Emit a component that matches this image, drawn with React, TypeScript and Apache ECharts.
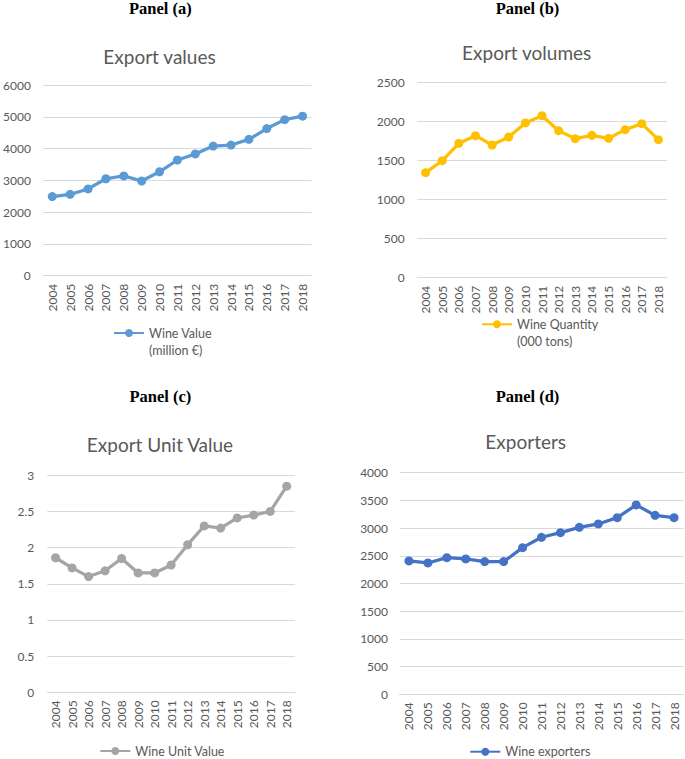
import React, { useEffect, useRef } from "react";
import * as echarts from "echarts";

const years = ["2004", "2005", "2006", "2007", "2008", "2009", "2010", "2011", "2012", "2013", "2014", "2015", "2016", "2017", "2018"];
const wineValue = [2490, 2560, 2730, 3050, 3140, 2980, 3270, 3640, 3830, 4080, 4110, 4290, 4630, 4910, 5020];
const wineQuantity = [1344, 1497, 1719, 1817, 1698, 1800, 1980, 2073, 1881, 1779, 1822, 1783, 1894, 1971, 1766];
const wineUnitValue = [1.86, 1.72, 1.6, 1.68, 1.85, 1.65, 1.65, 1.76, 2.04, 2.3, 2.27, 2.41, 2.45, 2.5, 2.85];
const wineExporters = [2407, 2371, 2467, 2443, 2395, 2395, 2647, 2834, 2918, 3014, 3075, 3189, 3418, 3231, 3189];

const panelTitles = ["Panel (a)", "Panel (b)", "Panel (c)", "Panel (d)"];
const chartTitles = ["Export values", "Export volumes", "Export Unit Value", "Exporters"];
const seriesNames = ["Wine Value\n(million €)", "Wine Quantity\n(000 tons)", "Wine Unit Value", "Wine exporters"];
const seriesColors = ["#5B9BD5", "#FFC000", "#A5A5A5", "#4472C4"];
const yMax = [6000, 2500, 3, 4000];
const yInterval = [1000, 500, 0.5, 500];

const FONT = "Lato, 'Noto Sans', sans-serif";
const GRAY = "#595959";
const GRID_LINE = "#D9D9D9";

export default function App() {
  const ref = useRef<HTMLDivElement>(null);

  useEffect(() => {
    if (!ref.current) return;
    const chart = echarts.init(ref.current, undefined, { renderer: "svg" });
    const data = [wineValue, wineQuantity, wineUnitValue, wineExporters];

    const grids = [
      { left: 39.5, top: 85, width: 272, height: 190.7 },
      { left: 417.3, top: 82.3, width: 249.4, height: 195.4 },
      { left: 47.3, top: 475.3, width: 247.7, height: 217 },
      { left: 399.5, top: 472.7, width: 284, height: 221.6 },
    ];
    const yMargins = [12.5, 12.6, 13, 11.5];
    const panelPos = [
      [160.3, 8.5],
      [527.5, 8.5],
      [160.3, 396],
      [527.5, 396],
    ];
    const titlePos = [
      [159.5, 56],
      [526.7, 52],
      [160, 444.5],
      [525.7, 441.5],
    ];
    const legendPos = [
      { left: 113, cy: 333 },
      { left: 481, cy: 324.3 },
      { left: 99.3, cy: 751 },
      { left: 469.3, cy: 751.7 },
    ];
    const LH = 17.5;

    const graphics: any[] = [];
    panelTitles.forEach((t, i) => {
      graphics.push({
        type: "text",
        x: panelPos[i][0],
        y: panelPos[i][1],
        style: {
          text: t,
          font: "bold 16.5px 'Liberation Serif', 'Times New Roman', serif",
          fill: "#000",
          align: "center",
          verticalAlign: "middle",
        },
      });
    });
    chartTitles.forEach((t, i) => {
      graphics.push({
        type: "text",
        x: titlePos[i][0],
        y: titlePos[i][1],
        style: {
          text: t,
          font: `19px ${FONT}`,
          fill: GRAY,
          align: "center",
          verticalAlign: "middle",
        },
      });
    });

    const option: any = {
      animation: false,
      backgroundColor: "#fff",
      grid: grids.map((g) => ({ ...g, containLabel: false })),
      xAxis: grids.map((_, i) => ({
        type: "category",
        gridIndex: i,
        data: years,
        boundaryGap: true,
        axisLine: { show: true, lineStyle: { color: GRID_LINE, width: 1 } },
        axisTick: { show: false },
        axisLabel: {
          interval: 0,
          rotate: 90,
          margin: 8,
          color: GRAY,
          fontFamily: FONT,
          fontSize: 12,
        },
        splitLine: { show: false },
      })),
      yAxis: grids.map((_, i) => ({
        type: "value",
        gridIndex: i,
        min: 0,
        max: yMax[i],
        interval: yInterval[i],
        axisLine: { show: false },
        axisTick: { show: false },
        axisLabel: {
          margin: yMargins[i],
          color: GRAY,
          fontFamily: FONT,
          fontSize: 12,
          formatter: (v: number) => String(v),
        },
        splitLine: { show: true, lineStyle: { color: GRID_LINE, width: 1 } },
      })),
      legend: seriesNames.map((name, i) => {
        const twoLine = name.includes("\n");
        const boxH = twoLine ? 3 * LH : LH;
        return {
          data: [name],
          left: legendPos[i].left,
          top: legendPos[i].cy - boxH / 2,
          padding: 0,
          itemWidth: 30,
          itemHeight: 10,
          selectedMode: false,
          formatter: (n: string) => (twoLine ? "\n" + n : n),
          textStyle: {
            color: GRAY,
            fontFamily: FONT,
            fontSize: 12.5,
            lineHeight: LH,
          },
        };
      }),
      series: seriesNames.map((name, i) => ({
        name,
        type: "line",
        xAxisIndex: i,
        yAxisIndex: i,
        data: data[i],
        color: seriesColors[i],
        symbol: "circle",
        symbolSize: 9,
        showSymbol: true,
        lineStyle: { width: 3.25, color: seriesColors[i] },
        itemStyle: { color: seriesColors[i] },
      })),
      graphic: graphics,
    };

    chart.setOption(option);
    return () => chart.dispose();
  }, []);

  return (
    <div
      ref={ref}
      style={{ position: "fixed", left: 0, top: 0, width: 685, height: 759, background: "#fff" }}
    />
  );
}
